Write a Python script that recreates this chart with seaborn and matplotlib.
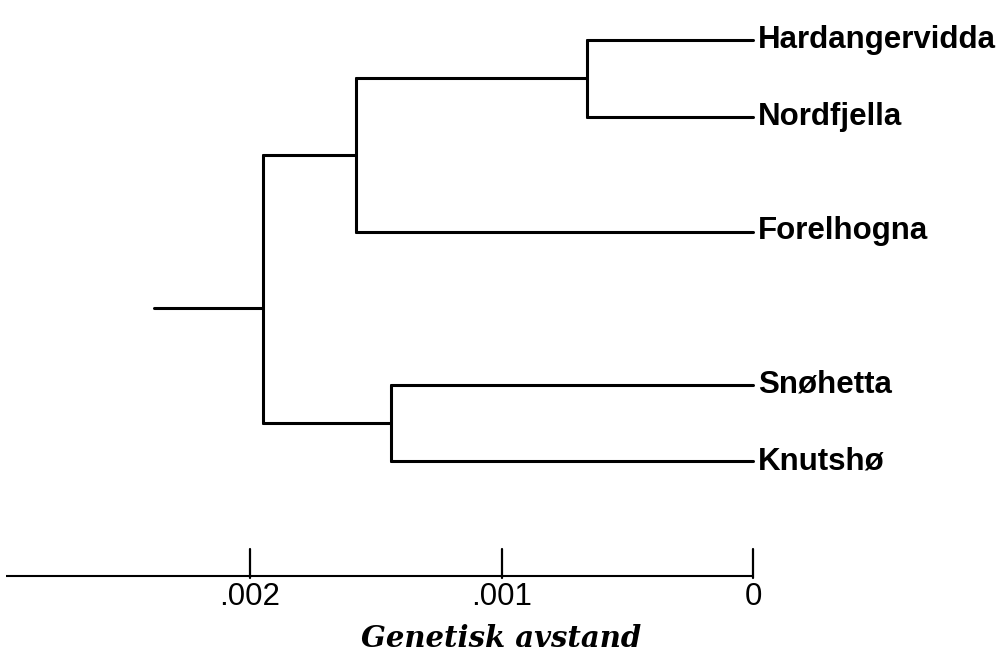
import matplotlib
matplotlib.use("Agg")
import matplotlib.pyplot as plt
import seaborn as sns
import pandas as pd

# ---- data ----
leaves = ["Hardangervidda", "Nordfjella", "Forelhogna", "Snøhetta", "Knutshø"]
leaf_pos = [0, 2, 5, 9, 11]            # vertical order slots of the leaves
# clusters: (left child, right child, genetic distance of join)
merge_a = ["Hardangervidda", "N1", "Snøhetta", "N2"]
merge_b = ["Nordfjella", "Forelhogna", "Knutshø", "N3"]
merge_names = ["N1", "N2", "N3", "ROOT"]
merge_dist = [0.00066, 0.00158, 0.00144, 0.00195]
root_stub_dist = 0.00238
root_stub_pos = 7
axis_ticks = [0.002, 0.001, 0.0]
axis_ticklabels = [".002", ".001", "0"]
axis_extent = 0.00297
xlabel = "Genetisk avstand"

# ---- build segments ----
pos = dict(zip(leaves, leaf_pos))
dist = {l: 0.0 for l in leaves}
rows = []
seg = 0
for a, b, n, d in zip(merge_a, merge_b, merge_names, merge_dist):
    ya, yb = pos[a], pos[b]
    for child, yc in ((a, ya), (b, yb)):
        rows += [(seg, dist[child], yc), (seg, d, yc)]
        seg += 1
    rows += [(seg, d, ya), (seg, d, yb)]
    seg += 1
    pos[n] = (ya + yb) / 2
    dist[n] = d
pos["ROOT"] = root_stub_pos
rows += [(seg, dist["ROOT"], root_stub_pos), (seg, root_stub_dist, root_stub_pos)]
seg += 1
df = pd.DataFrame(rows, columns=["seg", "x", "y"])

# ---- figure ----
sns.set_theme(style="white")
fig = plt.figure(figsize=(10.05, 6.54), dpi=100)
ax = fig.add_axes([0, 0, 1, 1])
sns.lineplot(data=df, x="x", y="y", units="seg", estimator=None, sort=False,
             color="black", linewidth=2.2, ax=ax, legend=False)

# x scale: 0 at px 753, .001 per 251.5 px
px_per = 251500.0
ax.set_xlim(753 / px_per, (753 - 1005) / px_per)
step = 38.3
ax.set_ylim((654 - 40) / step, -40 / step)
ax.axis("off")

for name, p in zip(leaves, leaf_pos):
    ax.text(-0.00002, p, name, ha="left", va="center", fontsize=22.5,
            fontweight="bold", family="Liberation Sans", color="black")

# distance axis
axis_y = 14
ax.plot([axis_extent, 0], [axis_y, axis_y], color="black", lw=1.5,
        solid_capstyle="butt")
for t, lab in zip(axis_ticks, axis_ticklabels):
    ax.plot([t, t], [axis_y - 0.72, axis_y + 0.05], color="black", lw=1.6)
    ax.text(t, axis_y + 0.55, lab, ha="center", va="center", fontsize=22.5,
            family="Liberation Sans", color="black")
ax.text(0.001, axis_y + 1.62, xlabel, ha="center", va="center", fontsize=21,
        family="DejaVu Serif", fontweight="bold", fontstyle="italic", color="black")

fig.savefig("out.png", dpi=100, facecolor="white")
